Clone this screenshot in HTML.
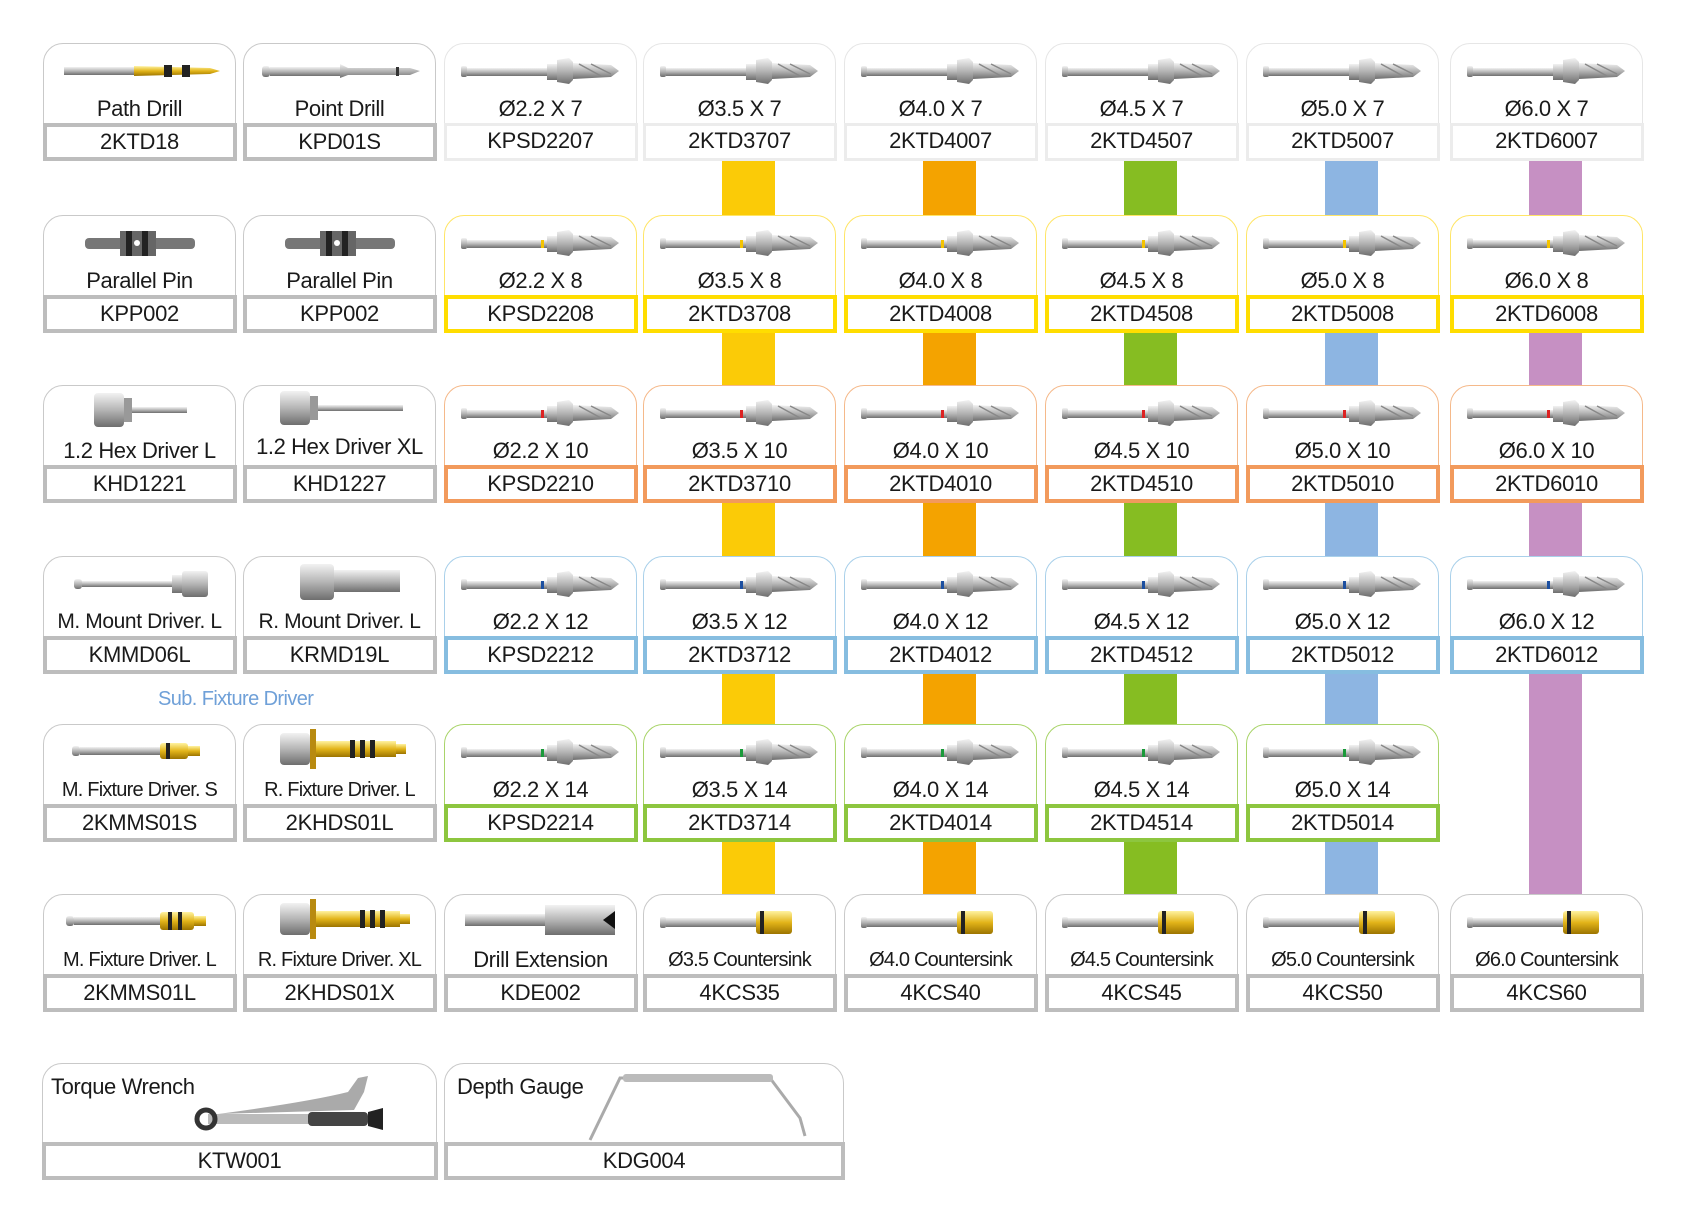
<!DOCTYPE html>
<html><head><meta charset="utf-8"><style>
*{margin:0;padding:0;box-sizing:border-box}
body{width:1700px;height:1227px;background:#fff;position:relative;overflow:hidden;font-family:"Liberation Sans",sans-serif;color:#1a1a1a}
.c{position:absolute;width:193px;height:117px;border:1.5px solid #c9c9c9;border-radius:20px 20px 0 0;background:#fff}
.k{position:absolute;left:-1.5px;right:-1.5px;bottom:-1.5px;height:38px;border:4px solid #bdbdbd;background:#fff;font-size:22px;text-align:center;line-height:30px;letter-spacing:-0.3px}
.n{position:absolute;left:0;right:0;top:52px;text-align:center;font-size:22px;line-height:26px;white-space:nowrap;letter-spacing:-0.4px}
.s{font-size:20px;letter-spacing:-0.8px}
.l{border-color:#e6e6e6}.l .k{border-color:#ececec;border-width:3px}
.y{border-color:#ffe566}.y .k{border-color:#ffdd00}
.o{border-color:#f5b98a}.o .k{border-color:#f29a5c}
.b{border-color:#a9d0ea}.b .k{border-color:#86bde0}
.g{border-color:#a9d46a}.g .k{border-color:#8dc63f}
.bar{position:absolute;width:53px}
.c svg{position:absolute;left:16px;top:10px}
</style></head><body>
<svg width="0" height="0" style="position:absolute">
<defs>
<linearGradient id="m" x1="0" y1="0" x2="0" y2="1"><stop offset="0" stop-color="#f2f2f2"/><stop offset=".5" stop-color="#b5b5b5"/><stop offset="1" stop-color="#6e6e6e"/></linearGradient>
<linearGradient id="gd" x1="0" y1="0" x2="0" y2="1"><stop offset="0" stop-color="#fff3a0"/><stop offset=".5" stop-color="#e2b419"/><stop offset="1" stop-color="#9c7400"/></linearGradient>
<symbol id="d" viewBox="0 0 160 34"><rect x="0" y="12" width="6" height="11" rx="2" fill="url(#m)"/><rect x="6" y="14" width="80" height="8" fill="url(#m)"/><rect x="86" y="10" width="10" height="16" fill="url(#m)"/><polygon points="96,6 108,4 112,8 112,26 108,30 96,28" fill="url(#m)"/><polygon points="112,9 150,11 158,17 150,23 112,25" fill="url(#m)"/><path d="M118 10 L140 22 M130 10 L150 20" stroke="#888" stroke-width="1.5"/></symbol>
<symbol id="cs" viewBox="0 0 160 34"><rect x="0" y="12" width="6" height="11" rx="2" fill="url(#m)"/><rect x="6" y="13" width="90" height="9" fill="url(#m)"/><rect x="96" y="6" width="36" height="23" rx="3" fill="url(#gd)"/><rect x="100" y="6" width="4" height="23" fill="#222"/></symbol>
</defs></svg>

<!-- bars -->
<div class="bar" style="left:722px;top:160px;height:55px;background:#fbcb07"></div>
<div class="bar" style="left:722px;top:332px;height:53px;background:#fbcb07"></div>
<div class="bar" style="left:722px;top:502px;height:54px;background:#fbcb07"></div>
<div class="bar" style="left:722px;top:673px;height:51px;background:#fbcb07"></div>
<div class="bar" style="left:722px;top:841px;height:53px;background:#fbcb07"></div>
<div class="bar" style="left:923px;top:160px;height:55px;background:#f4a300"></div>
<div class="bar" style="left:923px;top:332px;height:53px;background:#f4a300"></div>
<div class="bar" style="left:923px;top:502px;height:54px;background:#f4a300"></div>
<div class="bar" style="left:923px;top:673px;height:51px;background:#f4a300"></div>
<div class="bar" style="left:923px;top:841px;height:53px;background:#f4a300"></div>
<div class="bar" style="left:1124px;top:160px;height:55px;background:#86bd22"></div>
<div class="bar" style="left:1124px;top:332px;height:53px;background:#86bd22"></div>
<div class="bar" style="left:1124px;top:502px;height:54px;background:#86bd22"></div>
<div class="bar" style="left:1124px;top:673px;height:51px;background:#86bd22"></div>
<div class="bar" style="left:1124px;top:841px;height:53px;background:#86bd22"></div>
<div class="bar" style="left:1325px;top:160px;height:55px;background:#8db5e2"></div>
<div class="bar" style="left:1325px;top:332px;height:53px;background:#8db5e2"></div>
<div class="bar" style="left:1325px;top:502px;height:54px;background:#8db5e2"></div>
<div class="bar" style="left:1325px;top:673px;height:51px;background:#8db5e2"></div>
<div class="bar" style="left:1325px;top:841px;height:53px;background:#8db5e2"></div>
<div class="bar" style="left:1529px;top:160px;height:55px;background:#c690c3"></div>
<div class="bar" style="left:1529px;top:332px;height:53px;background:#c690c3"></div>
<div class="bar" style="left:1529px;top:502px;height:54px;background:#c690c3"></div>
<div class="bar" style="left:1529px;top:673px;height:221px;background:#c690c3"></div>

<!-- Row 1 -->
<div class="c" style="left:43px;top:43px"><svg width="160" height="34"><rect x="4" y="13" width="70" height="8" fill="url(#m)"/><polygon points="74,12 150,14 160,17 150,20 74,22" fill="url(#gd)"/><rect x="104" y="11" width="8" height="12" fill="#222"/><rect x="122" y="11" width="8" height="12" fill="#222"/></svg><div class="n">Path Drill</div><div class="k">2KTD18</div></div>
<div class="c" style="left:243px;top:43px"><svg width="160" height="34"><rect x="2" y="12" width="8" height="11" rx="3" fill="url(#m)"/><rect x="10" y="13" width="70" height="9" fill="url(#m)"/><polygon points="80,10 88,14 150,14 160,17 150,21 88,21 80,24" fill="url(#m)"/><rect x="136" y="13" width="3" height="9" fill="#333"/></svg><div class="n">Point Drill</div><div class="k">KPD01S</div></div>
<div class="c l" style="left:444px;top:43px"><svg width="160" height="34"><use href="#d"/></svg><div class="n">Ø2.2 X 7</div><div class="k">KPSD2207</div></div>
<div class="c l" style="left:643px;top:43px"><svg width="160" height="34"><use href="#d"/></svg><div class="n">Ø3.5 X 7</div><div class="k">2KTD3707</div></div>
<div class="c l" style="left:844px;top:43px"><svg width="160" height="34"><use href="#d"/></svg><div class="n">Ø4.0 X 7</div><div class="k">2KTD4007</div></div>
<div class="c l" style="left:1045px;top:43px"><svg width="160" height="34"><use href="#d"/></svg><div class="n">Ø4.5 X 7</div><div class="k">2KTD4507</div></div>
<div class="c l" style="left:1246px;top:43px"><svg width="160" height="34"><use href="#d"/></svg><div class="n">Ø5.0 X 7</div><div class="k">2KTD5007</div></div>
<div class="c l" style="left:1450px;top:43px"><svg width="160" height="34"><use href="#d"/></svg><div class="n">Ø6.0 X 7</div><div class="k">2KTD6007</div></div>

<!-- Row 2 -->
<div class="c" style="left:43px;top:215px"><svg width="160" height="34"><rect x="25" y="12" width="110" height="11" rx="4" fill="#777"/><rect x="60" y="5" width="36" height="25" fill="#666"/><rect x="66" y="5" width="6" height="25" fill="#222"/><rect x="82" y="5" width="6" height="25" fill="#222"/><circle cx="77" cy="17" r="3" fill="#fff"/></svg><div class="n">Parallel Pin</div><div class="k">KPP002</div></div>
<div class="c" style="left:243px;top:215px"><svg width="160" height="34"><rect x="25" y="12" width="110" height="11" rx="4" fill="#777"/><rect x="60" y="5" width="36" height="25" fill="#666"/><rect x="66" y="5" width="6" height="25" fill="#222"/><rect x="82" y="5" width="6" height="25" fill="#222"/><circle cx="77" cy="17" r="3" fill="#fff"/></svg><div class="n">Parallel Pin</div><div class="k">KPP002</div></div>
<div class="c y" style="left:444px;top:215px"><svg width="160" height="34"><use href="#d"/><rect x="80" y="14" width="3" height="8" fill="#f5c400"/></svg><div class="n">Ø2.2 X 8</div><div class="k">KPSD2208</div></div>
<div class="c y" style="left:643px;top:215px"><svg width="160" height="34"><use href="#d"/><rect x="80" y="14" width="3" height="8" fill="#f5c400"/></svg><div class="n">Ø3.5 X 8</div><div class="k">2KTD3708</div></div>
<div class="c y" style="left:844px;top:215px"><svg width="160" height="34"><use href="#d"/><rect x="80" y="14" width="3" height="8" fill="#f5c400"/></svg><div class="n">Ø4.0 X 8</div><div class="k">2KTD4008</div></div>
<div class="c y" style="left:1045px;top:215px"><svg width="160" height="34"><use href="#d"/><rect x="80" y="14" width="3" height="8" fill="#f5c400"/></svg><div class="n">Ø4.5 X 8</div><div class="k">2KTD4508</div></div>
<div class="c y" style="left:1246px;top:215px"><svg width="160" height="34"><use href="#d"/><rect x="80" y="14" width="3" height="8" fill="#f5c400"/></svg><div class="n">Ø5.0 X 8</div><div class="k">2KTD5008</div></div>
<div class="c y" style="left:1450px;top:215px"><svg width="160" height="34"><use href="#d"/><rect x="80" y="14" width="3" height="8" fill="#f5c400"/></svg><div class="n">Ø6.0 X 8</div><div class="k">2KTD6008</div></div>

<!-- Row 3 -->
<div class="c" style="left:43px;top:385px"><svg width="160" height="40" style="top:4px"><rect x="34" y="3" width="30" height="34" rx="4" fill="url(#m)"/><rect x="64" y="8" width="8" height="24" fill="#999"/><rect x="72" y="17" width="55" height="6" fill="url(#m)"/></svg><div class="n">1.2 Hex Driver L</div><div class="k">KHD1221</div></div>
<div class="c" style="left:243px;top:385px"><svg width="160" height="40" style="top:2px"><rect x="20" y="3" width="30" height="34" rx="4" fill="url(#m)"/><rect x="50" y="8" width="8" height="24" fill="#999"/><rect x="58" y="17" width="85" height="6" fill="url(#m)"/></svg><div class="n" style="top:48px">1.2 Hex Driver XL</div><div class="k">KHD1227</div></div>
<div class="c o" style="left:444px;top:385px"><svg width="160" height="34"><use href="#d"/><rect x="80" y="14" width="3" height="8" fill="#d22"/></svg><div class="n">Ø2.2 X 10</div><div class="k">KPSD2210</div></div>
<div class="c o" style="left:643px;top:385px"><svg width="160" height="34"><use href="#d"/><rect x="80" y="14" width="3" height="8" fill="#d22"/></svg><div class="n">Ø3.5 X 10</div><div class="k">2KTD3710</div></div>
<div class="c o" style="left:844px;top:385px"><svg width="160" height="34"><use href="#d"/><rect x="80" y="14" width="3" height="8" fill="#d22"/></svg><div class="n">Ø4.0 X 10</div><div class="k">2KTD4010</div></div>
<div class="c o" style="left:1045px;top:385px"><svg width="160" height="34"><use href="#d"/><rect x="80" y="14" width="3" height="8" fill="#d22"/></svg><div class="n">Ø4.5 X 10</div><div class="k">2KTD4510</div></div>
<div class="c o" style="left:1246px;top:385px"><svg width="160" height="34"><use href="#d"/><rect x="80" y="14" width="3" height="8" fill="#d22"/></svg><div class="n">Ø5.0 X 10</div><div class="k">2KTD5010</div></div>
<div class="c o" style="left:1450px;top:385px"><svg width="160" height="34"><use href="#d"/><rect x="80" y="14" width="3" height="8" fill="#d22"/></svg><div class="n">Ø6.0 X 10</div><div class="k">2KTD6010</div></div>

<!-- Row 4 -->
<div class="c" style="left:43px;top:556px"><svg width="160" height="40" style="top:6px"><rect x="14" y="16" width="8" height="10" rx="3" fill="url(#m)"/><rect x="22" y="18" width="90" height="6" fill="url(#m)"/><rect x="112" y="12" width="10" height="18" fill="url(#m)"/><rect x="122" y="8" width="26" height="26" rx="3" fill="url(#m)"/></svg><div class="n" style="font-size:21px">M. Mount Driver. L</div><div class="k">KMMD06L</div></div>
<div class="c" style="left:243px;top:556px"><svg width="160" height="40" style="top:4px"><rect x="40" y="3" width="34" height="36" rx="4" fill="url(#m)"/><rect x="74" y="9" width="66" height="22" fill="url(#m)"/></svg><div class="n" style="font-size:21px">R. Mount Driver. L</div><div class="k">KRMD19L</div></div>
<div class="c b" style="left:444px;top:556px"><svg width="160" height="34"><use href="#d"/><rect x="80" y="14" width="3" height="8" fill="#1c4fa0"/></svg><div class="n">Ø2.2 X 12</div><div class="k">KPSD2212</div></div>
<div class="c b" style="left:643px;top:556px"><svg width="160" height="34"><use href="#d"/><rect x="80" y="14" width="3" height="8" fill="#1c4fa0"/></svg><div class="n">Ø3.5 X 12</div><div class="k">2KTD3712</div></div>
<div class="c b" style="left:844px;top:556px"><svg width="160" height="34"><use href="#d"/><rect x="80" y="14" width="3" height="8" fill="#1c4fa0"/></svg><div class="n">Ø4.0 X 12</div><div class="k">2KTD4012</div></div>
<div class="c b" style="left:1045px;top:556px"><svg width="160" height="34"><use href="#d"/><rect x="80" y="14" width="3" height="8" fill="#1c4fa0"/></svg><div class="n">Ø4.5 X 12</div><div class="k">2KTD4512</div></div>
<div class="c b" style="left:1246px;top:556px"><svg width="160" height="34"><use href="#d"/><rect x="80" y="14" width="3" height="8" fill="#1c4fa0"/></svg><div class="n">Ø5.0 X 12</div><div class="k">2KTD5012</div></div>
<div class="c b" style="left:1450px;top:556px"><svg width="160" height="34"><use href="#d"/><rect x="80" y="14" width="3" height="8" fill="#1c4fa0"/></svg><div class="n">Ø6.0 X 12</div><div class="k">2KTD6012</div></div>

<div style="position:absolute;left:158px;top:688px;font-size:20px;color:#6fa0d8;letter-spacing:-0.6px">Sub. Fixture Driver</div>

<!-- Row 5 -->
<div class="c" style="left:43px;top:724px"><svg width="160" height="40" style="top:6px"><rect x="12" y="15" width="8" height="10" rx="3" fill="url(#m)"/><rect x="20" y="16" width="80" height="8" fill="url(#m)"/><rect x="100" y="12" width="28" height="16" rx="3" fill="url(#gd)"/><rect x="106" y="12" width="4" height="16" fill="#222"/><rect x="128" y="15" width="12" height="10" fill="url(#gd)"/></svg><div class="n s">M. Fixture Driver. S</div><div class="k">2KMMS01S</div></div>
<div class="c" style="left:243px;top:724px"><svg width="160" height="40" style="top:4px"><rect x="20" y="4" width="30" height="32" rx="4" fill="url(#m)"/><rect x="50" y="0" width="6" height="40" fill="#b88a10"/><rect x="56" y="12" width="80" height="16" fill="url(#gd)"/><rect x="90" y="11" width="5" height="18" fill="#222"/><rect x="100" y="11" width="5" height="18" fill="#222"/><rect x="110" y="11" width="5" height="18" fill="#222"/><rect x="136" y="15" width="10" height="10" fill="url(#gd)"/></svg><div class="n s">R. Fixture Driver. L</div><div class="k">2KHDS01L</div></div>
<div class="c g" style="left:444px;top:724px"><svg width="160" height="34"><use href="#d"/><rect x="80" y="14" width="3" height="8" fill="#1a9a3a"/></svg><div class="n">Ø2.2 X 14</div><div class="k">KPSD2214</div></div>
<div class="c g" style="left:643px;top:724px"><svg width="160" height="34"><use href="#d"/><rect x="80" y="14" width="3" height="8" fill="#1a9a3a"/></svg><div class="n">Ø3.5 X 14</div><div class="k">2KTD3714</div></div>
<div class="c g" style="left:844px;top:724px"><svg width="160" height="34"><use href="#d"/><rect x="80" y="14" width="3" height="8" fill="#1a9a3a"/></svg><div class="n">Ø4.0 X 14</div><div class="k">2KTD4014</div></div>
<div class="c g" style="left:1045px;top:724px"><svg width="160" height="34"><use href="#d"/><rect x="80" y="14" width="3" height="8" fill="#1a9a3a"/></svg><div class="n">Ø4.5 X 14</div><div class="k">2KTD4514</div></div>
<div class="c g" style="left:1246px;top:724px"><svg width="160" height="34"><use href="#d"/><rect x="80" y="14" width="3" height="8" fill="#1a9a3a"/></svg><div class="n">Ø5.0 X 14</div><div class="k">2KTD5014</div></div>

<!-- Row 6 -->
<div class="c" style="left:43px;top:894px"><svg width="160" height="40" style="top:6px"><rect x="6" y="15" width="8" height="10" rx="3" fill="url(#m)"/><rect x="14" y="16" width="86" height="8" fill="url(#m)"/><rect x="100" y="11" width="34" height="18" rx="3" fill="url(#gd)"/><rect x="108" y="11" width="4" height="18" fill="#222"/><rect x="118" y="11" width="4" height="18" fill="#222"/><rect x="134" y="15" width="12" height="10" fill="url(#gd)"/></svg><div class="n s">M. Fixture Driver. L</div><div class="k">2KMMS01L</div></div>
<div class="c" style="left:243px;top:894px"><svg width="160" height="40" style="top:4px"><rect x="20" y="4" width="30" height="32" rx="4" fill="url(#m)"/><rect x="50" y="0" width="6" height="40" fill="#b88a10"/><rect x="56" y="12" width="84" height="16" fill="url(#gd)"/><rect x="100" y="11" width="5" height="18" fill="#222"/><rect x="110" y="11" width="5" height="18" fill="#222"/><rect x="120" y="11" width="5" height="18" fill="#222"/><rect x="140" y="15" width="10" height="10" fill="url(#gd)"/></svg><div class="n s">R. Fixture Driver. XL</div><div class="k">2KHDS01X</div></div>
<div class="c" style="left:444px;top:894px"><svg width="160" height="40" style="top:6px"><rect x="4" y="13" width="80" height="12" fill="url(#m)"/><rect x="84" y="4" width="70" height="30" fill="url(#m)"/><polygon points="154,10 142,19 154,28" fill="#111"/></svg><div class="n">Drill Extension</div><div class="k">KDE002</div></div>
<div class="c" style="left:643px;top:894px"><svg width="160" height="34"><use href="#cs"/></svg><div class="n s">Ø3.5 Countersink</div><div class="k">4KCS35</div></div>
<div class="c" style="left:844px;top:894px"><svg width="160" height="34"><use href="#cs"/></svg><div class="n s">Ø4.0 Countersink</div><div class="k">4KCS40</div></div>
<div class="c" style="left:1045px;top:894px"><svg width="160" height="34"><use href="#cs"/></svg><div class="n s">Ø4.5 Countersink</div><div class="k">4KCS45</div></div>
<div class="c" style="left:1246px;top:894px"><svg width="160" height="34"><use href="#cs"/></svg><div class="n s">Ø5.0 Countersink</div><div class="k">4KCS50</div></div>
<div class="c" style="left:1450px;top:894px"><svg width="160" height="34"><use href="#cs"/></svg><div class="n s">Ø6.0 Countersink</div><div class="k">4KCS60</div></div>

<!-- Row 7 -->
<div class="c" style="left:42px;top:1063px;width:395px;height:116px"><div class="n" style="text-align:left;left:8px;top:10px">Torque Wrench</div>
<svg width="250" height="70" style="left:115px;top:8px"><path d="M60 42 Q150 30 190 20 L200 6 L210 4 L206 20 L196 38 Z" fill="#aaa"/><rect x="50" y="42" width="140" height="10" fill="#bbb"/><circle cx="48" cy="47" r="9" fill="none" stroke="#333" stroke-width="5"/><rect x="150" y="40" width="60" height="14" rx="4" fill="#444"/><polygon points="210,40 225,36 225,58 210,54" fill="#222"/></svg>
<div class="k">KTW001</div></div>
<div class="c" style="left:444px;top:1063px;width:400px;height:116px"><div class="n" style="text-align:left;left:12px;top:10px">Depth Gauge</div>
<svg width="230" height="75" style="left:140px;top:4px"><polyline points="5,72 35,10 185,10 215,50 220,68" fill="none" stroke="#aaa" stroke-width="3"/><rect x="38" y="6" width="150" height="8" rx="3" fill="#bbb"/></svg>
<div class="k">KDG004</div></div>
</body></html>
